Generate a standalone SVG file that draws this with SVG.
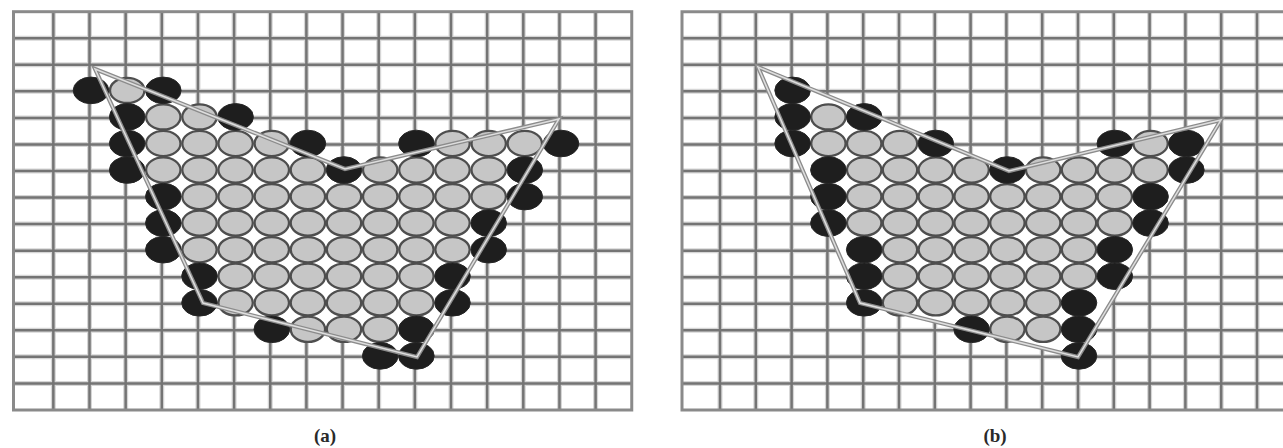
<svg xmlns="http://www.w3.org/2000/svg" xmlns:xlink="http://www.w3.org/1999/xlink" width="1283" height="448" viewBox="0 0 1283 448">
<style>
.halo{fill:none;stroke:#d6d6d6;stroke-width:5}
.grid{fill:none;stroke:#747474;stroke-width:2.5}
.frame{fill:none;stroke:#8a8a8a;stroke-width:3}
.pfill{fill:#ffffff;stroke:none}
.pedge{fill:none;stroke:#8c8c8c;stroke-width:4.2;stroke-linejoin:miter}
.pcore{fill:none;stroke:#dedede;stroke-width:1.5;stroke-linejoin:miter}
.lbl{font-family:"Liberation Serif","DejaVu Serif",serif;font-weight:bold;font-size:19px;fill:#2a2a2a;text-anchor:middle}
</style>
<defs>
<ellipse id="lt" cx="0" cy="0" rx="17.2" ry="12.6" fill="#c6c6c6" stroke="#4e4e4e" stroke-width="2.3"/>
<ellipse id="dk" cx="0" cy="0" rx="17.8" ry="13.3" fill="#1e1e1e" stroke="#262626" stroke-width="1"/>
</defs>
<rect width="1283" height="448" fill="#ffffff"/>

<g id="panel-a">
<g id="grid-a">
<path class="halo" d="M53.35 11.7V410M89.5 11.7V410M125.65 11.7V410M161.8 11.7V410M197.95 11.7V410M234.1 11.7V410M270.25 11.7V410M306.4 11.7V410M342.55 11.7V410M378.7 11.7V410M414.85 11.7V410M451 11.7V410M487.15 11.7V410M523.3 11.7V410M559.45 11.7V410M595.6 11.7V410M13.5 38.25H631.75M13.5 64.8H631.75M13.5 91.35H631.75M13.5 117.9H631.75M13.5 144.45H631.75M13.5 171H631.75M13.5 197.55H631.75M13.5 224.1H631.75M13.5 250.65H631.75M13.5 277.2H631.75M13.5 303.75H631.75M13.5 330.3H631.75M13.5 356.85H631.75M13.5 383.4H631.75"/>
<path class="grid" d="M53.35 11.7V410M89.5 11.7V410M125.65 11.7V410M161.8 11.7V410M197.95 11.7V410M234.1 11.7V410M270.25 11.7V410M306.4 11.7V410M342.55 11.7V410M378.7 11.7V410M414.85 11.7V410M451 11.7V410M487.15 11.7V410M523.3 11.7V410M559.45 11.7V410M595.6 11.7V410M13.5 38.25H631.75M13.5 64.8H631.75M13.5 91.35H631.75M13.5 117.9H631.75M13.5 144.45H631.75M13.5 171H631.75M13.5 197.55H631.75M13.5 224.1H631.75M13.5 250.65H631.75M13.5 277.2H631.75M13.5 303.75H631.75M13.5 330.3H631.75M13.5 356.85H631.75M13.5 383.4H631.75"/>
<rect class="frame" x="13.5" y="11.7" width="618.25" height="398.3"/>
</g>
<polygon id="poly-a-fill" class="pfill" points="95,69 345,169 559,119 417,357 203,303"/>
<g id="light-a">
<use xlink:href="#lt" x="127.2" y="90.4"/>
<use xlink:href="#lt" x="163.3" y="116.9"/><use xlink:href="#lt" x="199.5" y="116.9"/>
<use xlink:href="#lt" x="163.3" y="143.5"/><use xlink:href="#lt" x="199.5" y="143.5"/><use xlink:href="#lt" x="235.6" y="143.5"/><use xlink:href="#lt" x="271.8" y="143.5"/><use xlink:href="#lt" x="452.5" y="143.5"/><use xlink:href="#lt" x="488.7" y="143.5"/><use xlink:href="#lt" x="524.8" y="143.5"/>
<use xlink:href="#lt" x="163.3" y="170"/><use xlink:href="#lt" x="199.5" y="170"/><use xlink:href="#lt" x="235.6" y="170"/><use xlink:href="#lt" x="271.8" y="170"/><use xlink:href="#lt" x="307.9" y="170"/><use xlink:href="#lt" x="380.2" y="170"/><use xlink:href="#lt" x="416.4" y="170"/><use xlink:href="#lt" x="452.5" y="170"/><use xlink:href="#lt" x="488.7" y="170"/>
<use xlink:href="#lt" x="199.5" y="196.6"/><use xlink:href="#lt" x="235.6" y="196.6"/><use xlink:href="#lt" x="271.8" y="196.6"/><use xlink:href="#lt" x="307.9" y="196.6"/><use xlink:href="#lt" x="344" y="196.6"/><use xlink:href="#lt" x="380.2" y="196.6"/><use xlink:href="#lt" x="416.4" y="196.6"/><use xlink:href="#lt" x="452.5" y="196.6"/><use xlink:href="#lt" x="488.7" y="196.6"/>
<use xlink:href="#lt" x="199.5" y="223.1"/><use xlink:href="#lt" x="235.6" y="223.1"/><use xlink:href="#lt" x="271.8" y="223.1"/><use xlink:href="#lt" x="307.9" y="223.1"/><use xlink:href="#lt" x="344" y="223.1"/><use xlink:href="#lt" x="380.2" y="223.1"/><use xlink:href="#lt" x="416.4" y="223.1"/><use xlink:href="#lt" x="452.5" y="223.1"/>
<use xlink:href="#lt" x="199.5" y="249.7"/><use xlink:href="#lt" x="235.6" y="249.7"/><use xlink:href="#lt" x="271.8" y="249.7"/><use xlink:href="#lt" x="307.9" y="249.7"/><use xlink:href="#lt" x="344" y="249.7"/><use xlink:href="#lt" x="380.2" y="249.7"/><use xlink:href="#lt" x="416.4" y="249.7"/><use xlink:href="#lt" x="452.5" y="249.7"/>
<use xlink:href="#lt" x="235.6" y="276.2"/><use xlink:href="#lt" x="271.8" y="276.2"/><use xlink:href="#lt" x="307.9" y="276.2"/><use xlink:href="#lt" x="344" y="276.2"/><use xlink:href="#lt" x="380.2" y="276.2"/><use xlink:href="#lt" x="416.4" y="276.2"/>
<use xlink:href="#lt" x="235.6" y="302.8"/><use xlink:href="#lt" x="271.8" y="302.8"/><use xlink:href="#lt" x="307.9" y="302.8"/><use xlink:href="#lt" x="344" y="302.8"/><use xlink:href="#lt" x="380.2" y="302.8"/><use xlink:href="#lt" x="416.4" y="302.8"/>
<use xlink:href="#lt" x="307.9" y="329.3"/><use xlink:href="#lt" x="344" y="329.3"/><use xlink:href="#lt" x="380.2" y="329.3"/>
</g>
<g id="dark-a">
<use xlink:href="#dk" x="91" y="90.4"/><use xlink:href="#dk" x="163.3" y="90.4"/>
<use xlink:href="#dk" x="127.2" y="116.9"/><use xlink:href="#dk" x="235.6" y="116.9"/>
<use xlink:href="#dk" x="127.2" y="143.5"/><use xlink:href="#dk" x="307.9" y="143.5"/><use xlink:href="#dk" x="416.4" y="143.5"/><use xlink:href="#dk" x="561" y="143.5"/>
<use xlink:href="#dk" x="127.2" y="170"/><use xlink:href="#dk" x="344" y="170"/><use xlink:href="#dk" x="524.8" y="170"/>
<use xlink:href="#dk" x="163.3" y="196.6"/><use xlink:href="#dk" x="524.8" y="196.6"/>
<use xlink:href="#dk" x="163.3" y="223.1"/><use xlink:href="#dk" x="488.7" y="223.1"/>
<use xlink:href="#dk" x="163.3" y="249.7"/><use xlink:href="#dk" x="488.7" y="249.7"/>
<use xlink:href="#dk" x="199.5" y="276.2"/><use xlink:href="#dk" x="452.5" y="276.2"/>
<use xlink:href="#dk" x="199.5" y="302.8"/><use xlink:href="#dk" x="452.5" y="302.8"/>
<use xlink:href="#dk" x="271.8" y="329.3"/><use xlink:href="#dk" x="416.4" y="329.3"/>
<use xlink:href="#dk" x="380.2" y="355.9"/><use xlink:href="#dk" x="416.4" y="355.9"/>
</g>
<g id="poly-a">
<polygon class="pedge" points="95,69 345,169 559,119 417,357 203,303"/>
<polygon class="pcore" points="95,69 345,169 559,119 417,357 203,303"/>
</g>
<text id="label-a" class="lbl" x="325" y="442">(a)</text>
</g>

<g id="panel-b">
<g id="grid-b">
<path class="halo" d="M720 11.7V410M755.8 11.7V410M791.6 11.7V410M827.4 11.7V410M863.2 11.7V410M899 11.7V410M934.8 11.7V410M970.6 11.7V410M1006.4 11.7V410M1042.2 11.7V410M1078 11.7V410M1113.8 11.7V410M1149.6 11.7V410M1185.4 11.7V410M1221.2 11.7V410M1257 11.7V410M682 38.25H1283M682 64.8H1283M682 91.35H1283M682 117.9H1283M682 144.45H1283M682 171H1283M682 197.55H1283M682 224.1H1283M682 250.65H1283M682 277.2H1283M682 303.75H1283M682 330.3H1283M682 356.85H1283M682 383.4H1283"/>
<path class="grid" d="M720 11.7V410M755.8 11.7V410M791.6 11.7V410M827.4 11.7V410M863.2 11.7V410M899 11.7V410M934.8 11.7V410M970.6 11.7V410M1006.4 11.7V410M1042.2 11.7V410M1078 11.7V410M1113.8 11.7V410M1149.6 11.7V410M1185.4 11.7V410M1221.2 11.7V410M1257 11.7V410M682 38.25H1283M682 64.8H1283M682 91.35H1283M682 117.9H1283M682 144.45H1283M682 171H1283M682 197.55H1283M682 224.1H1283M682 250.65H1283M682 277.2H1283M682 303.75H1283M682 330.3H1283M682 356.85H1283M682 383.4H1283"/>
<path class="frame" d="M1285 11.7H682V410H1285"/>
</g>
<polygon id="poly-b-fill" class="pfill" points="758,67 1009,171 1221,120 1078,357 860,303"/>
<g id="light-b">
<use xlink:href="#lt" x="828.4" y="116.9"/>
<use xlink:href="#lt" x="828.4" y="143.5"/><use xlink:href="#lt" x="864.2" y="143.5"/><use xlink:href="#lt" x="900" y="143.5"/><use xlink:href="#lt" x="1150.6" y="143.5"/>
<use xlink:href="#lt" x="864.2" y="170"/><use xlink:href="#lt" x="900" y="170"/><use xlink:href="#lt" x="935.8" y="170"/><use xlink:href="#lt" x="971.6" y="170"/><use xlink:href="#lt" x="1043.2" y="170"/><use xlink:href="#lt" x="1079" y="170"/><use xlink:href="#lt" x="1114.8" y="170"/><use xlink:href="#lt" x="1150.6" y="170"/>
<use xlink:href="#lt" x="864.2" y="196.6"/><use xlink:href="#lt" x="900" y="196.6"/><use xlink:href="#lt" x="935.8" y="196.6"/><use xlink:href="#lt" x="971.6" y="196.6"/><use xlink:href="#lt" x="1007.4" y="196.6"/><use xlink:href="#lt" x="1043.2" y="196.6"/><use xlink:href="#lt" x="1079" y="196.6"/><use xlink:href="#lt" x="1114.8" y="196.6"/>
<use xlink:href="#lt" x="864.2" y="223.1"/><use xlink:href="#lt" x="900" y="223.1"/><use xlink:href="#lt" x="935.8" y="223.1"/><use xlink:href="#lt" x="971.6" y="223.1"/><use xlink:href="#lt" x="1007.4" y="223.1"/><use xlink:href="#lt" x="1043.2" y="223.1"/><use xlink:href="#lt" x="1079" y="223.1"/><use xlink:href="#lt" x="1114.8" y="223.1"/>
<use xlink:href="#lt" x="900" y="249.7"/><use xlink:href="#lt" x="935.8" y="249.7"/><use xlink:href="#lt" x="971.6" y="249.7"/><use xlink:href="#lt" x="1007.4" y="249.7"/><use xlink:href="#lt" x="1043.2" y="249.7"/><use xlink:href="#lt" x="1079" y="249.7"/>
<use xlink:href="#lt" x="900" y="276.2"/><use xlink:href="#lt" x="935.8" y="276.2"/><use xlink:href="#lt" x="971.6" y="276.2"/><use xlink:href="#lt" x="1007.4" y="276.2"/><use xlink:href="#lt" x="1043.2" y="276.2"/><use xlink:href="#lt" x="1079" y="276.2"/>
<use xlink:href="#lt" x="900" y="302.8"/><use xlink:href="#lt" x="935.8" y="302.8"/><use xlink:href="#lt" x="971.6" y="302.8"/><use xlink:href="#lt" x="1007.4" y="302.8"/><use xlink:href="#lt" x="1043.2" y="302.8"/>
<use xlink:href="#lt" x="1007.4" y="329.3"/><use xlink:href="#lt" x="1043.2" y="329.3"/>
</g>
<g id="dark-b">
<use xlink:href="#dk" x="792.6" y="90.4"/>
<use xlink:href="#dk" x="792.6" y="116.9"/><use xlink:href="#dk" x="864.2" y="116.9"/>
<use xlink:href="#dk" x="792.6" y="143.5"/><use xlink:href="#dk" x="935.8" y="143.5"/><use xlink:href="#dk" x="1114.8" y="143.5"/><use xlink:href="#dk" x="1186.4" y="143.5"/>
<use xlink:href="#dk" x="828.4" y="170"/><use xlink:href="#dk" x="1007.4" y="170"/><use xlink:href="#dk" x="1186.4" y="170"/>
<use xlink:href="#dk" x="828.4" y="196.6"/><use xlink:href="#dk" x="1150.6" y="196.6"/>
<use xlink:href="#dk" x="828.4" y="223.1"/><use xlink:href="#dk" x="1150.6" y="223.1"/>
<use xlink:href="#dk" x="864.2" y="249.7"/><use xlink:href="#dk" x="1114.8" y="249.7"/>
<use xlink:href="#dk" x="864.2" y="276.2"/><use xlink:href="#dk" x="1114.8" y="276.2"/>
<use xlink:href="#dk" x="864.2" y="302.8"/><use xlink:href="#dk" x="1079" y="302.8"/>
<use xlink:href="#dk" x="971.6" y="329.3"/><use xlink:href="#dk" x="1079" y="329.3"/>
<use xlink:href="#dk" x="1079" y="355.9"/>
</g>
<g id="poly-b">
<polygon class="pedge" points="758,67 1009,171 1221,120 1078,357 860,303"/>
<polygon class="pcore" points="758,67 1009,171 1221,120 1078,357 860,303"/>
</g>
<text id="label-b" class="lbl" x="995" y="442">(b)</text>
</g>
</svg>
